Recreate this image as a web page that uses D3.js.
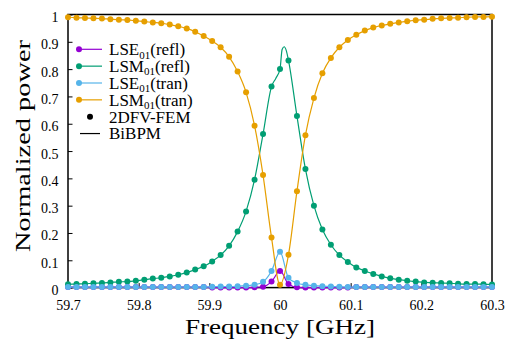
<!DOCTYPE html>
<html>
<head>
<meta charset="utf-8">
<script src="https://cdn.jsdelivr.net/npm/d3@7"></script>
<style>
  body { margin: 0; background: #fff; }
  svg { display: block; font-family: "Liberation Serif", "Times New Roman", serif; }
</style>
</head>
<body>
<div id="chart"></div>
<script>
// Frequency grid of the 2DFV-FEM samples [GHz]
const freq = [59.700, 59.712, 59.724, 59.736, 59.748, 59.760, 59.772, 59.784, 59.796, 59.808,
    59.820, 59.832, 59.844, 59.856, 59.868, 59.880, 59.892, 59.904, 59.916, 59.928,
    59.940, 59.952, 59.964, 59.976, 59.988, 60.000, 60.012, 60.024, 60.036, 60.048,
    60.060, 60.072, 60.084, 60.096, 60.108, 60.120, 60.132, 60.144, 60.156, 60.168,
    60.180, 60.192, 60.204, 60.216, 60.228, 60.240, 60.252, 60.264, 60.276, 60.288, 60.300];

const lseRefl = [0.002, 0.002, 0.002, 0.002, 0.002, 0.002, 0.002, 0.002, 0.002, 0.002,
    0.002, 0.002, 0.002, 0.002, 0.002, 0.002, 0.002, 0.000, 0.000, 0.000,
    0.000, 0.000, 0.001, 0.003, 0.022, 0.061, 0.013, 0.001, 0.000, 0.000,
    0.000, 0.000, 0.000, 0.000, 0.002, 0.002, 0.002, 0.002, 0.002, 0.002,
    0.002, 0.002, 0.002, 0.002, 0.002, 0.002, 0.002, 0.002, 0.002, 0.002, 0.002];

const lsmRefl = [0.012, 0.013, 0.014, 0.016, 0.017, 0.019, 0.021, 0.022, 0.025, 0.029,
    0.033, 0.036, 0.041, 0.047, 0.055, 0.066, 0.078, 0.096, 0.119, 0.153,
    0.205, 0.279, 0.395, 0.562, 0.736, 0.800, 0.832, 0.628, 0.434, 0.300,
    0.213, 0.157, 0.119, 0.094, 0.074, 0.061, 0.050, 0.041, 0.034, 0.029,
    0.025, 0.022, 0.019, 0.018, 0.017, 0.016, 0.014, 0.013, 0.013, 0.012, 0.011];

const lseTran = [0.002, 0.002, 0.002, 0.002, 0.002, 0.002, 0.002, 0.002, 0.002, 0.002,
    0.002, 0.002, 0.002, 0.002, 0.002, 0.002, 0.002, 0.003, 0.004, 0.004,
    0.005, 0.007, 0.010, 0.021, 0.061, 0.131, 0.036, 0.017, 0.010, 0.007,
    0.005, 0.004, 0.003, 0.002, 0.002, 0.002, 0.002, 0.002, 0.002, 0.002,
    0.002, 0.002, 0.002, 0.002, 0.002, 0.002, 0.002, 0.002, 0.002, 0.002, 0.002];

const lsmTran = [0.990, 0.988, 0.987, 0.986, 0.985, 0.983, 0.981, 0.980, 0.977, 0.974,
    0.971, 0.968, 0.963, 0.957, 0.949, 0.937, 0.921, 0.903, 0.880, 0.845,
    0.791, 0.715, 0.593, 0.412, 0.183, 0.010, 0.120, 0.353, 0.558, 0.694,
    0.785, 0.841, 0.880, 0.907, 0.926, 0.941, 0.952, 0.960, 0.966, 0.971,
    0.975, 0.979, 0.981, 0.984, 0.986, 0.987, 0.988, 0.990, 0.991, 0.991, 0.992];

// extra BiBPM samples around the LSM01 reflection peak
const lsmReflBpmFreq = [59.994, 60.003, 60.006, 60.009];
const lsmReflBpmVal = [0.766, 0.872, 0.882, 0.867];

const xTicks = [59.7, 59.8, 59.9, 60, 60.1, 60.2, 60.3];
const yTicks = [0, 0.1, 0.2, 0.3, 0.4, 0.5, 0.6, 0.7, 0.8, 0.9, 1];

const series = [
    { name: "LSE", mode: "refl", values: lseRefl, color: "#9400d3" },
    { name: "LSM", mode: "refl", values: lsmRefl, color: "#009e73",
      extraFreq: lsmReflBpmFreq, extraVal: lsmReflBpmVal },
    { name: "LSE", mode: "tran", values: lseTran, color: "#56b4e9" },
    { name: "LSM", mode: "tran", values: lsmTran, color: "#e69f00" }
];

const W = 505, H = 339;
const margin = { top: 14.5, right: 13, bottom: 51.4, left: 68 };
const width = W - margin.left - margin.right;
const height = H - margin.top - margin.bottom;

const svg = d3.select("#chart").append("svg")
    .attr("width", W)
    .attr("height", H);

const g = svg.append("g")
    .attr("transform", `translate(${margin.left},${margin.top})`);

const x = d3.scaleLinear().domain([59.7, 60.3]).range([0, width]);
const y = d3.scaleLinear().domain([0, 1]).range([height, 0]);

// Axes (ticks pointing inward, like the gnuplot original)
const xAxis = g.append("g")
    .attr("transform", `translate(0,${height})`)
    .call(d3.axisBottom(x).tickValues(xTicks).tickSizeInner(-4.5).tickSizeOuter(0)
        .tickPadding(0).tickFormat(d3.format("")));
xAxis.select(".domain").remove();
xAxis.selectAll("line").attr("stroke", "#000").attr("stroke-width", 1);
xAxis.selectAll("text")
    .attr("y", 22).attr("dy", null)
    .attr("fill", "#000")
    .style("font-size", "14px")
    .style("font-family", "Liberation Serif, serif");

const yAxis = g.append("g")
    .call(d3.axisLeft(y).tickValues(yTicks).tickSizeInner(-4.5).tickSizeOuter(0)
        .tickPadding(0).tickFormat(d3.format("")));
yAxis.select(".domain").remove();
yAxis.selectAll("line").attr("stroke", "#000").attr("stroke-width", 1);
yAxis.selectAll("text")
    .attr("x", -9.5).attr("dy", null).attr("y", 7)
    .attr("fill", "#000")
    .style("font-size", "14px")
    .style("font-family", "Liberation Serif, serif");

// Frame
g.append("rect")
    .attr("width", width)
    .attr("height", height)
    .attr("fill", "none")
    .attr("stroke", "#000")
    .attr("stroke-width", 1.5);

// Curves (BiBPM) and points (2DFV-FEM)
const line = d3.line()
    .x(d => x(d[0]))
    .y(d => y(d[1]))
    .curve(d3.curveMonotoneX);

series.forEach(s => {
    let pts = freq.map((f, i) => [f, s.values[i]]);
    if (s.extraFreq) {
        pts = pts.concat(s.extraFreq.map((f, i) => [f, s.extraVal[i]]));
        pts.sort((a, b) => a[0] - b[0]);
    }
    g.append("path")
        .datum(pts)
        .attr("fill", "none")
        .attr("stroke", s.color)
        .attr("stroke-width", 1.2)
        .attr("d", line);

    g.append("g").selectAll("circle")
        .data(freq.map((f, i) => [f, s.values[i]]))
        .enter()
        .append("circle")
        .attr("cx", d => x(d[0]))
        .attr("cy", d => y(d[1]))
        .attr("r", 3)
        .attr("fill", s.color);
});

// Legend
const legend = svg.append("g").attr("transform", "translate(79,49.3)");
const rowH = 16.85;
series.forEach((s, i) => {
    const row = legend.append("g").attr("transform", `translate(0,${i * rowH})`);
    row.append("line")
        .attr("x1", 1).attr("x2", 23)
        .attr("stroke", s.color).attr("stroke-width", 1.2);
    row.append("circle").attr("r", 3).attr("fill", s.color);
    const t = row.append("text")
        .attr("x", 30).attr("y", 5.8)
        .style("font-size", "17px");
    t.append("tspan").text(s.name);
    t.append("tspan").text("01").style("font-size", "11px").attr("dy", 3.5);
    t.append("tspan").text(`(${s.mode})`).attr("dy", -3.5);
});
const r5 = legend.append("g").attr("transform", `translate(0,${4 * rowH})`);
r5.append("circle").attr("cx", 11).attr("r", 3).attr("fill", "#000");
r5.append("text").attr("x", 30).attr("y", 5.8).style("font-size", "17px").text("2DFV-FEM");
const r6 = legend.append("g").attr("transform", `translate(0,${5 * rowH})`);
r6.append("line").attr("x1", 1).attr("x2", 21).attr("stroke", "#000").attr("stroke-width", 1.2);
r6.append("text").attr("x", 30).attr("y", 5.8).style("font-size", "17px").text("BiBPM");

// Axis titles
svg.append("text")
    .attr("x", 280).attr("y", 334.3)
    .attr("text-anchor", "middle")
    .attr("textLength", 190)
    .attr("lengthAdjust", "spacingAndGlyphs")
    .style("font-size", "22px")
    .text("Frequency [GHz]");

svg.append("text")
    .attr("transform", "translate(29.5,146) rotate(-90)")
    .attr("text-anchor", "middle")
    .attr("textLength", 212)
    .attr("lengthAdjust", "spacingAndGlyphs")
    .style("font-size", "22px")
    .text("Normalized power");
</script>
</body>
</html>
